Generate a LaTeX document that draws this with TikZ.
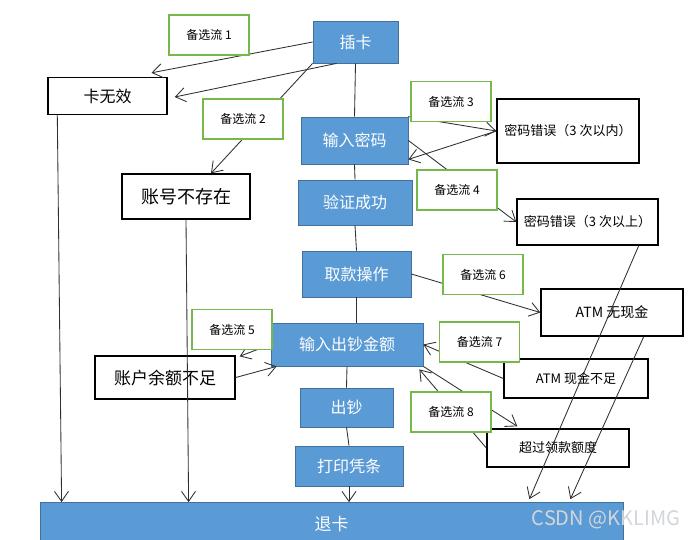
\documentclass[tikz,border=0pt]{standalone}
\usepackage{fontspec}
\setmainfont{Noto Sans CJK SC}
\usetikzlibrary{arrows.meta,calc}
\definecolor{mainblue}{HTML}{5B9BD5}
\definecolor{blueedge}{HTML}{41719C}
\definecolor{greenedge}{HTML}{76B84A}
\definecolor{linegray}{HTML}{2F2F2F}
\definecolor{wmark}{HTML}{D2D6DA}
\begin{document}
\begin{tikzpicture}[x=1pt,y=-1pt,
  bluebox/.style={draw=blueedge,fill=mainblue,text=white,line width=0.8pt,inner sep=0pt,font=\fontsize{16}{16}\selectfont},
  whitebox/.style={draw=black,fill=white,line width=1.4pt,inner sep=0pt},
  greenbox/.style={draw=greenedge,fill=white,line width=1.4pt,inner sep=0pt,minimum width=80pt,minimum height=40pt,font=\fontsize{12}{12}\selectfont},
  conn/.style={draw=linegray,line width=0.85pt},
  arr/.style={conn,-{Straight Barb[length=10pt,width=14pt]}}]
\useasboundingbox[fill=white] (0,0) rectangle (693,539);

% main flow
\node[bluebox,minimum width=85pt,minimum height=42pt] (chaka) at (355.5,42) {插卡};
\node[bluebox,minimum width=107pt,minimum height=47pt] (srmm) at (354.5,140.5) {输入密码};
\node[bluebox,minimum width=114pt,minimum height=45pt] (yzcg) at (355,202.5) {验证成功};
\node[bluebox,minimum width=109pt,minimum height=46pt] (qkcz) at (356.5,274) {取款操作};
\node[bluebox,minimum width=152pt,minimum height=43pt] (srje) at (347,344.5) {输入出钞金额};
\node[bluebox,minimum width=93pt,minimum height=39pt] (chc) at (346.5,407.5) {出钞};
\node[bluebox,minimum width=108pt,minimum height=40pt] (dypt) at (349,466) {打印凭条};
\node[bluebox,minimum width=583pt,minimum height=44pt,font=\fontsize{17}{17}\selectfont] (tuika) at (331.5,524.5) {退卡};

% result boxes
\node[whitebox,minimum width=119pt,minimum height=37pt,font=\fontsize{16}{16}\selectfont] (kwx) at (107.5,96) {卡无效};
\node[whitebox,minimum width=128pt,minimum height=45pt,font=\fontsize{18}{18}\selectfont] (zhbcz) at (186,196.5) {账号不存在};
\node[whitebox,minimum width=142pt,minimum height=64pt,font=\fontsize{13}{13}\selectfont] (mmcwa) at (568,131) {密码错误（3 次以内）};
\node[whitebox,minimum width=141pt,minimum height=46pt,font=\fontsize{13}{13}\selectfont] (mmcwb) at (587.5,222) {密码错误（3 次以上）};
\node[whitebox,minimum width=142pt,minimum height=47pt,font=\fontsize{14}{14}\selectfont] (atmw) at (612,312.5) {ATM 无现金};
\node[whitebox,minimum width=144pt,minimum height=39pt,font=\fontsize{13}{13}\selectfont] (atmb) at (576,378.5) {ATM 现金不足};
\node[whitebox,minimum width=142pt,minimum height=38pt,font=\fontsize{13}{13}\selectfont] (cgl) at (558,448) {超过领款额度};
\node[whitebox,minimum width=140pt,minimum height=43pt,font=\fontsize{17}{17}\selectfont] (zhye) at (165,377.5) {账户余额不足};

% main flow connectors
\draw[conn] (chaka.south) -- (srmm.north);
\draw[conn] (srmm.south) -- (yzcg.north);
\draw[conn] (yzcg.south) -- (qkcz.north);
\draw[conn] (qkcz.south) -- (qkcz.south |- srje.north);
\draw[conn] (srje.south) -- (chc.north);
\draw[conn] (chc.south) -- (dypt.north);
\draw[arr] (dypt.south) -- (dypt.south |- tuika.north);

% alternative connectors
\draw[arr] (chaka.west) -- ($(kwx.north)+(44,-4)$);
\draw[arr] ($(chaka.south west)+(24,0)$) -- ($(kwx.east)+(7,1)$);
\draw[arr] (chaka.south west) -- ($(zhbcz.north)+(25,0)$);
\draw[arr] (srmm.north east) -- (mmcwa.west);
\draw[arr] (mmcwa.west) -- ($(srmm.south east)+(0,-5)$);
\draw[arr] (srmm.east) -- (mmcwb.west);
\draw[arr] (qkcz.east) -- (atmw.west);
\draw[arr] (atmb.west) -- (srje.east);
\draw[arr] (srje.south east) -- ($(cgl.north west)+(31,-2)$);
\draw[arr] (cgl.west) -- ($(srje.south east)+(-4,3)$);
\draw[arr] (srje.west) -- ($(zhye.north east)+(4,1)$);
\draw[arr] (zhye.east) -- ($(srje.south west)+(6,0)$);

% to eject card
\draw[arr] ($(kwx.south west)+(10,0)$) -- ($(tuika.north west)+(22,0)$);
\draw[arr] (zhbcz.south) -- ($(tuika.north west)+(149,0)$);
\draw[arr] ($(mmcwb.south east)+(-20,0)$) -- ($(tuika.north east)+(-94,-3)$);
\draw[arr] ($(atmw.south east)+(-40,0)$) -- ($(tuika.north east)+(-53,-3)$);

% alternative flow labels
\node[greenbox] (ga) at (209,35) {备选流 1};
\node[greenbox] (gb) at (243,119) {备选流 2};
\node[greenbox] (gc) at (451,101.5) {备选流 3};
\node[greenbox] (gd) at (457,190) {备选流 4};
\node[greenbox] (ge) at (232,329.5) {备选流 5};
\node[greenbox] (gf) at (483,274.5) {备选流 6};
\node[greenbox] (gg) at (479.5,342) {备选流 7};
\node[greenbox] (gh) at (451,412) {备选流 8};

% watermark
\node[text=wmark,font=\fontsize{20}{20}\selectfont,inner sep=0pt] (wm) at (606,520) {CSDN @KKLIMG};
\end{tikzpicture}
\end{document}
